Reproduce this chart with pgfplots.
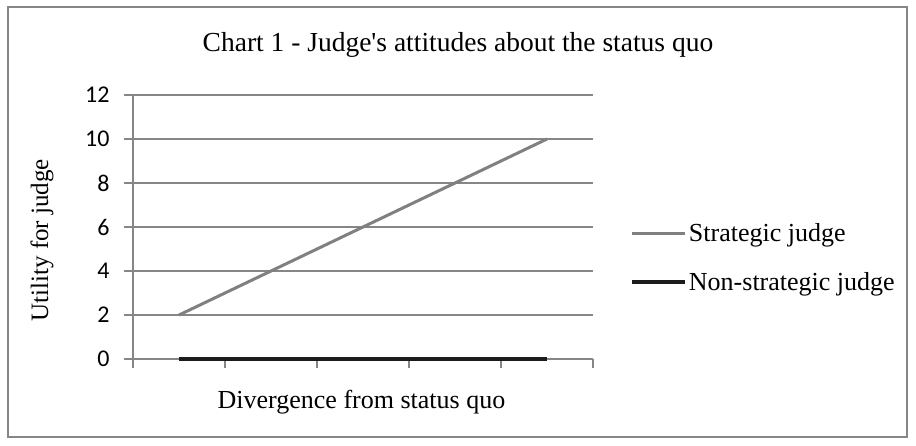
\documentclass[border=0pt]{standalone}
\usepackage{pgfplots}
\pgfplotsset{compat=1.18}
\usepackage{fontspec}
\setmainfont{Liberation Serif}[Ligatures=TeXOff]
\newfontfamily\calibri{Carlito}
\definecolor{gridgray}{RGB}{134,134,134}
\definecolor{stratgray}{RGB}{128,128,128}
\definecolor{nearblack}{RGB}{28,28,28}
\begin{document}
\begin{tikzpicture}
\useasboundingbox (0pt,0pt) rectangle (916pt,445pt);
\draw[gridgray, line width=1.2pt] (8pt,8pt) rectangle (907pt,438pt);
\begin{axis}[
  at={(133pt,86pt)}, anchor=south west,
  scale only axis, width=460pt, height=264pt,
  xmin=0.5, xmax=5.5, ymin=0, ymax=12,
  xtick={0.5,1.5,2.5,3.5,4.5,5.5}, xticklabels={},
  ytick={0,2,4,6,8,10,12},
  axis x line*=bottom, axis y line*=left,
  axis line style={gridgray, line width=1.3pt, -},
  tick style={gridgray, line width=1.3pt},
  major tick length=9pt, tick align=outside,
  ymajorgrids, grid style={gridgray, line width=1.2pt},
  tick label style={font=\calibri\fontsize{24}{28}\selectfont, black},
  /pgf/number format/assume math mode=true,
  yticklabel style={xshift=-11pt},
  title={Chart 1 - Judge's attitudes about the status quo},
  title style={at={(axis description cs:0.7065,1.168)}, anchor=center, font=\fontsize{27.5}{32}\selectfont},
  xlabel={Divergence from status quo},
  xlabel style={at={(axis description cs:0.4967,-0.162)}, anchor=center, font=\fontsize{26}{30}\selectfont},
  ylabel={Utility for judge},
  ylabel style={at={(axis description cs:-0.198,0.45)}, anchor=center, font=\fontsize{25}{30}\selectfont},
  legend style={at={(axis description cs:1.081,0.383)}, anchor=west, draw=none, fill=none,
    inner sep=0pt, font=\fontsize{26}{30}\selectfont, row sep=25pt,
    /tikz/every even column/.append style={column sep=2pt}},
  legend cell align=left,
  legend image code/.code={\draw[#1] (0pt,0pt) -- (53pt,0pt);},
  clip=false,
]
\addplot[stratgray, line width=3pt] coordinates {(1,2) (2,4) (3,6) (4,8) (5,10)};
\addlegendentry{Strategic judge}
\addplot[nearblack, line width=3.5pt] coordinates {(1,0) (2,0) (3,0) (4,0) (5,0)};
\addlegendentry{Non-strategic judge}
\end{axis}
\end{tikzpicture}
\end{document}
